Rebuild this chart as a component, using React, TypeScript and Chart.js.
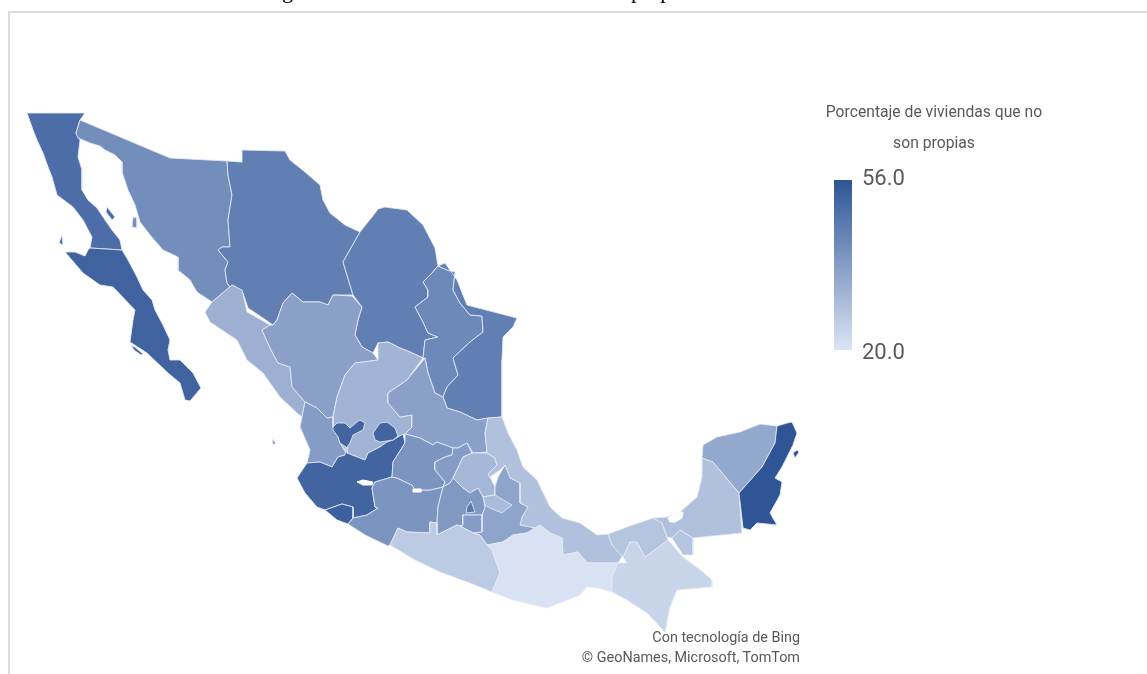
import React, { useEffect, useRef } from "react";
import { Chart, registerables } from "chart.js";

Chart.register(...registerables);

type Ring = number[][];

// State outlines, in map units on a 1147 x 674 sheet (y grows southward).
const bajaCalifornia: Ring = [[27,113],[85,113],[80,120],[76,133],[80,140],[78,157],[82,170],[82,190],[88,200],[97,208],[103,217],[112,230],[120,240],[122,250],[90,248],[92,237],[83,220],[73,207],[57,195],[52,177],[48,167],[43,153],[37,140],[33,130]];
const bajaCaliforniaSur: Ring = [[65,252],[75,252],[85,256],[88,250],[90,248],[122,250],[128,260],[137,277],[143,290],[152,300],[155,310],[163,325],[170,340],[168,350],[170,360],[180,360],[193,373],[201,388],[190,401],[185,400],[180,383],[168,373],[147,353],[130,342],[133,320],[135,310],[113,287],[100,285],[83,273]];
const sonora: Ring = [[80,120],[76,133],[78,138],[90,143],[100,146],[105,150],[115,155],[122,162],[122,172],[128,190],[135,205],[140,222],[150,235],[163,250],[178,257],[178,270],[190,280],[197,292],[212,302],[230,287],[227,283],[225,270],[228,262],[218,250],[222,247],[230,247],[228,220],[232,195],[228,175],[227,161],[170,158]];
const chihuahua: Ring = [[227,161],[241,162],[242,150],[285,151],[290,160],[305,172],[320,185],[323,200],[330,213],[345,225],[360,232],[343,262],[353,295],[333,295],[328,305],[320,302],[303,302],[292,293],[283,303],[277,320],[273,325],[263,318],[248,308],[243,293],[233,285],[230,287],[227,283],[225,270],[228,262],[218,250],[222,247],[230,247],[228,220],[232,195],[228,175]];
const coahuila: Ring = [[360,232],[372,217],[378,209],[385,207],[407,210],[423,225],[435,248],[438,266],[432,273],[423,282],[428,290],[428,297],[415,307],[423,322],[428,333],[438,337],[425,340],[423,358],[410,352],[400,348],[388,342],[378,343],[373,353],[362,347],[355,335],[358,320],[362,307],[353,295],[343,262]];
const nuevoLeon: Ring = [[438,266],[447,270],[455,272],[453,290],[460,303],[470,315],[482,316],[483,332],[470,342],[453,358],[458,375],[447,387],[443,397],[435,393],[428,373],[425,358],[423,358],[425,340],[438,337],[428,333],[423,322],[415,307],[428,297],[428,290],[423,282],[432,273]];
const tamaulipas: Ring = [[445,263],[457,280],[467,305],[513,317],[517,318],[513,327],[503,337],[502,360],[502,417],[490,418],[477,420],[460,412],[447,408],[443,397],[447,387],[458,375],[453,358],[470,342],[483,332],[482,316],[470,315],[460,303],[453,290],[455,272],[447,270],[438,266]];
const sinaloa: Ring = [[212,302],[232,285],[242,290],[247,312],[270,325],[262,330],[270,348],[278,363],[290,367],[292,387],[305,402],[302,417],[297,413],[280,397],[263,373],[247,360],[237,340],[210,322],[205,312]];
const durango: Ring = [[270,325],[273,325],[277,320],[283,303],[292,293],[303,302],[320,302],[328,305],[333,295],[352,296],[362,307],[358,320],[355,335],[362,347],[373,353],[378,360],[355,363],[345,375],[337,397],[333,417],[327,418],[317,408],[305,402],[292,387],[290,367],[278,363],[270,348],[262,330]];
const zacatecas: Ring = [[378,360],[378,343],[388,342],[400,348],[410,352],[423,358],[407,380],[388,393],[388,403],[400,417],[412,415],[412,427],[405,434],[393,440],[380,447],[368,453],[365,460],[347,453],[340,443],[333,427],[333,417],[337,397],[345,375],[355,363]];
const sanLuisPotosi: Ring = [[425,358],[428,373],[435,393],[443,397],[447,408],[460,412],[477,420],[488,418],[485,433],[487,452],[473,453],[467,443],[458,448],[453,448],[437,442],[433,445],[420,438],[405,434],[412,427],[412,415],[400,417],[388,403],[388,393],[407,380]];
const nayarit: Ring = [[305,402],[317,408],[327,418],[333,417],[333,427],[338,437],[340,443],[346,453],[345,455],[338,457],[332,467],[320,462],[307,463],[310,450],[300,427],[302,417]];
const jalisco: Ring = [[297,478],[307,463],[320,462],[332,467],[338,457],[345,455],[346,447],[340,443],[338,437],[333,430],[333,427],[337,423],[345,423],[350,428],[357,422],[360,420],[365,423],[363,430],[353,435],[350,443],[347,447],[347,453],[365,460],[368,453],[380,447],[387,442],[393,440],[403,434],[405,443],[393,462],[392,477],[375,482],[372,488],[375,507],[378,508],[367,515],[353,518],[353,507],[342,504],[325,510],[317,507],[305,493]];
const colima: Ring = [[325,510],[342,504],[353,507],[353,518],[348,524],[337,520]];
const aguascalientes: Ring = [[373,433],[380,423],[387,422],[395,428],[398,436],[393,440],[380,442],[375,440]];
const michoacan: Ring = [[348,524],[353,518],[367,515],[378,508],[375,507],[372,488],[375,482],[392,477],[397,478],[412,485],[415,490],[430,490],[443,487],[438,507],[437,523],[430,522],[430,533],[407,532],[398,528],[390,545],[388,546],[365,535]];
const guanajuato: Ring = [[405,434],[420,438],[433,445],[437,442],[453,448],[452,455],[445,457],[435,462],[435,470],[445,482],[443,487],[430,490],[415,490],[412,485],[397,478],[392,477],[393,462],[405,443]];
const queretaro: Ring = [[453,448],[458,448],[467,443],[472,453],[463,457],[453,478],[450,483],[443,487],[445,482],[435,470],[435,462],[445,457],[452,455]];
const hidalgo: Ring = [[472,453],[487,453],[495,458],[497,465],[488,474],[490,477],[495,487],[495,495],[483,497],[478,488],[470,493],[463,488],[453,478],[463,457]];
const veracruz: Ring = [[488,418],[502,417],[508,433],[517,450],[523,467],[537,480],[550,507],[562,518],[580,523],[597,535],[608,534],[612,545],[623,555],[618,563],[587,563],[578,552],[563,555],[562,538],[550,533],[540,525],[535,528],[520,525],[522,517],[528,507],[520,503],[520,483],[510,478],[505,465],[500,470],[490,477],[488,474],[497,465],[495,458],[487,453],[485,433]];
const puebla: Ring = [[505,465],[510,478],[520,483],[520,503],[528,507],[522,517],[520,525],[535,528],[527,533],[513,535],[503,542],[487,545],[480,535],[473,533],[482,532],[482,515],[485,507],[483,497],[495,495],[495,487],[498,477]];
const tlaxcala: Ring = [[483,497],[495,495],[512,505],[502,513],[490,508],[485,505]];
const estadoMexico: Ring = [[443,487],[450,483],[453,478],[463,488],[470,493],[478,488],[483,497],[485,507],[482,515],[463,515],[463,525],[460,526],[457,525],[437,535],[437,523],[438,507]];
const ciudadMexico: Ring = [[471,501],[475,512],[466,513],[467,507]];
const morelos: Ring = [[463,515],[482,515],[482,532],[473,533],[460,526],[463,525]];
const guerrero: Ring = [[390,545],[398,528],[407,532],[430,533],[430,522],[437,523],[437,535],[457,525],[460,526],[473,533],[480,535],[487,545],[492,550],[500,573],[492,592],[470,583],[440,572],[415,560]];
const oaxaca: Ring = [[492,550],[487,545],[503,542],[513,535],[527,533],[535,528],[540,525],[550,533],[562,538],[563,555],[578,552],[587,563],[618,563],[612,577],[612,592],[598,588],[587,587],[580,595],[547,608],[513,600],[492,592],[500,573]];
const chiapas: Ring = [[618,563],[627,563],[623,557],[630,542],[637,542],[645,557],[668,540],[683,557],[703,572],[712,580],[712,587],[677,590],[670,607],[665,632],[647,613],[627,600],[612,592],[612,577]];
const tabasco: Ring = [[608,534],[627,527],[653,518],[662,523],[667,537],[668,540],[645,557],[637,542],[630,542],[623,557],[612,545]];
const tabascoEste: Ring = [[672,538],[680,530],[693,538],[693,555],[683,555]];
const campeche: Ring = [[653,518],[667,517],[680,512],[697,497],[702,477],[702,458],[713,462],[739,493],[742,533],[693,538],[680,530],[672,538],[667,537],[662,523]];
const yucatan: Ring = [[702,458],[703,445],[717,437],[740,432],[760,424],[777,426],[775,443],[762,467],[739,493],[713,462]];
const quintanaRoo: Ring = [[777,426],[787,423],[792,422],[797,433],[793,445],[782,467],[775,478],[782,482],[780,495],[770,513],[777,525],[757,523],[750,530],[743,528],[739,493],[762,467],[775,443]];

// Islands, drawn in the colour of the state they belong to.
const cedros: Ring = [[62,235],[63,245],[59,243]];
const angelGuarda: Ring = [[107,207],[115,217],[112,220],[106,212]];
const tiburon: Ring = [[133,217],[137,218],[137,228],[132,227]];
const margarita: Ring = [[131,345],[136,348],[143,354],[141,355],[134,350]];
const cozumel: Ring = [[793,453],[797,450],[799,452],[795,458]];
const islasMarias: Ring = [[272,439],[276,443],[273,445]];

// Lakes and lagoons cut out of the land.
const chapala: Ring = [[357,482],[363,480],[373,482],[372,485],[363,485]];
const cuitzeo: Ring = [[413,489],[421,489],[421,492],[413,492]];
const terminos: Ring = [[668,518],[677,513],[683,512],[682,518],[675,522],[670,522]];

// Percentage of dwellings that are not owned, one value per outline.
const stateNames = ["Baja California","Baja California Sur","Sonora","Chihuahua","Coahuila","Nuevo León","Tamaulipas","Sinaloa","Durango","Zacatecas","San Luis Potosí","Nayarit","Jalisco","Colima","Aguascalientes","Michoacán","Guanajuato","Querétaro","Hidalgo","Veracruz","Puebla","Tlaxcala","México","Ciudad de México","Morelos","Guerrero","Oaxaca","Chiapas","Tabasco","Tabasco (este)","Campeche","Yucatán","Quintana Roo","Isla Cedros","Ángel de la Guarda","Tiburón","Margarita","Cozumel","Islas Marías"];
const stateValues = [50,52.5,41.6,45.5,45.5,43,45.5,33,37,32,37,38,52,53,52,40,40,38,31,29,36,30,39,47,38,26.5,20.5,24,28,28,29,35,56,50,50,41.6,52.5,56,38];
const stateOutlines = [bajaCalifornia,bajaCaliforniaSur,sonora,chihuahua,coahuila,nuevoLeon,tamaulipas,sinaloa,durango,zacatecas,sanLuisPotosi,nayarit,jalisco,colima,aguascalientes,michoacan,guanajuato,queretaro,hidalgo,veracruz,puebla,tlaxcala,estadoMexico,ciudadMexico,morelos,guerrero,oaxaca,chiapas,tabasco,tabascoEste,campeche,yucatan,quintanaRoo,cedros,angelGuarda,tiburon,margarita,cozumel,islasMarias];
const lakes = [chapala, cuitzeo, terminos];

// Colour legend.
const legendTitle = ["Porcentaje de viviendas que no", "son propias"];
const legendRange = [20, 56];
const legendBar: Ring = [[834,180],[852,180],[852,350],[834,350]];

const LOW = [219, 228, 244];
const HIGH = [47, 85, 151];

function shade(v: number): string {
  const t = (v - legendRange[0]) / (legendRange[1] - legendRange[0]);
  const c = LOW.map((l, i) => Math.round(l + (HIGH[i] - l) * t));
  return `rgb(${c[0]},${c[1]},${c[2]})`;
}

function closed(r: Ring) {
  const pts = r.map(([x, y]) => ({ x, y }));
  return [...pts, pts[0]];
}

const label: React.CSSProperties = {
  position: "absolute",
  fontFamily: "Roboto, sans-serif",
  color: "#595959",
  whiteSpace: "nowrap",
};

export default function App() {
  const ref = useRef<HTMLCanvasElement>(null);

  useEffect(() => {
    const canvas = ref.current!;
    const ctx = canvas.getContext("2d")!;
    const gradient = ctx.createLinearGradient(0, legendBar[0][1], 0, legendBar[2][1]);
    gradient.addColorStop(0, shade(legendRange[1]));
    gradient.addColorStop(1, shade(legendRange[0]));

    const base = { showLine: true, pointRadius: 0, tension: 0, fill: "shape" as const };
    const land = stateOutlines.map((r, i) => ({
      ...base,
      label: stateNames[i],
      data: closed(r),
      backgroundColor: shade(stateValues[i]),
      borderColor: "rgba(228,235,247,0.85)",
      borderWidth: 1,
      borderJoinStyle: "round" as const,
    }));
    const water = lakes.map((r) => ({
      ...base,
      label: "agua",
      data: closed(r),
      backgroundColor: "#ffffff",
      borderColor: "#ffffff",
      borderWidth: 1,
    }));
    const bar = {
      ...base,
      label: "leyenda",
      data: closed(legendBar),
      backgroundColor: gradient,
      borderWidth: 0,
    };

    // Earlier datasets paint on top, so the order runs from top layer to bottom.
    const chart = new Chart(canvas, {
      type: "scatter",
      data: { datasets: [bar, ...water, ...land.slice().reverse()] as any },
      options: {
        animation: false,
        responsive: false,
        layout: { padding: 0 },
        events: [],
        scales: {
          x: { type: "linear", min: 0, max: 1147, display: false },
          y: { type: "linear", min: 0, max: 674, reverse: true, display: false },
        },
        plugins: { legend: { display: false }, tooltip: { enabled: false } },
      },
    });
    return () => chart.destroy();
  }, []);

  return (
    <div style={{ position: "fixed", inset: 0, overflow: "hidden", background: "#fff" }}>
      <div style={{ position: "absolute", left: 282, top: -20, font: "22px/22px 'Liberation Serif', serif", color: "#000" }}>g</div>
      <div style={{ position: "absolute", left: 631, top: -20, font: "22px/22px 'Liberation Serif', serif", color: "#000" }}>propias</div>
      <div style={{ position: "absolute", left: 8, top: 11, right: -4, bottom: -4, border: "2px solid #dcdcdc" }} />
      <canvas ref={ref} width={1147} height={674} style={{ position: "absolute", left: 0, top: 0 }} />
      <div style={{ ...label, left: 734, width: 400, top: 96, textAlign: "center", fontSize: 15.7, lineHeight: "31px" }}>
        {legendTitle[0]}
        <br />
        {legendTitle[1]}
      </div>
      <div style={{ ...label, left: 862, top: 164, fontSize: 22, lineHeight: "28px" }}>{legendRange[1].toFixed(1)}</div>
      <div style={{ ...label, left: 862, top: 338, fontSize: 22, lineHeight: "28px" }}>{legendRange[0].toFixed(1)}</div>
      <div style={{ ...label, right: 347, top: 630, fontSize: 14.4, lineHeight: "16px" }}>Con tecnología de Bing</div>
      <div style={{ ...label, right: 347, top: 650, fontSize: 14.4, lineHeight: "16px" }}>© GeoNames, Microsoft, TomTom</div>
    </div>
  );
}
